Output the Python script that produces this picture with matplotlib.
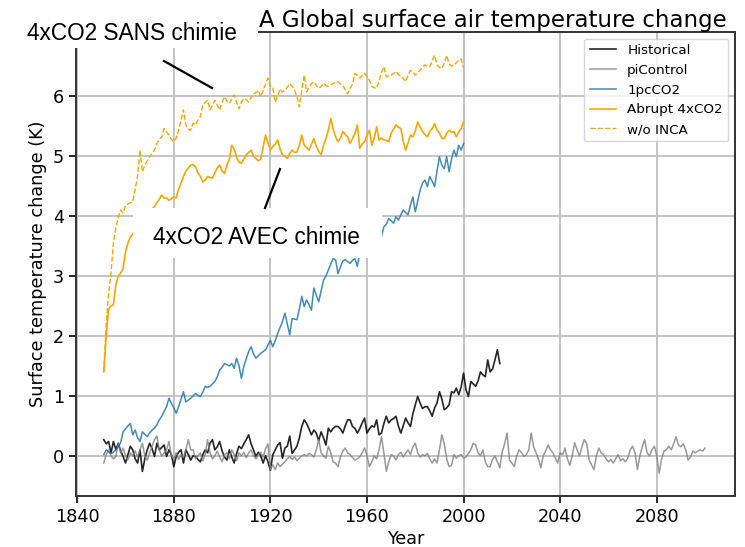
import numpy as np
import matplotlib
matplotlib.use("Agg")
import matplotlib.pyplot as plt
from matplotlib.patches import Rectangle
from matplotlib.lines import Line2D

# annual global mean surface air temperature anomalies (K)
start_year = 1851

historical = [
    0.27, 0.20, 0.24, 0.05, 0.24, 0.10, 0.21, 0.08, -0.01, -0.12,
    0.02, 0.16, 0.10, -0.05, -0.12, 0.10, -0.26, -0.05, 0.10, 0.21,
    0.12, -0.01, 0.21, 0.10, 0.14, 0.18, -0.01, 0.10, 0.02, -0.18,
    -0.01, 0.06, 0.10, -0.12, 0.10, 0.02, -0.07, 0.00, -0.01, -0.06,
    -0.10, 0.02, 0.10, 0.05, 0.21, 0.27, 0.10, 0.15, 0.24, 0.08,
    -0.02, -0.07, 0.10, -0.02, -0.12, 0.04, 0.16, 0.12, 0.20, 0.27,
    0.35, 0.20, 0.10, -0.01, 0.06, 0.00, -0.12, 0.00, -0.10, -0.24,
    0.02, 0.10, 0.18, 0.22, -0.04, 0.13, 0.16, 0.33, 0.04, 0.10,
    0.16, 0.30, 0.49, 0.60, 0.54, 0.45, 0.35, 0.43, 0.38, 0.25,
    0.40, 0.30, 0.18, 0.46, 0.40, 0.46, 0.49, 0.49, 0.45, 0.38,
    0.50, 0.60, 0.60, 0.49, 0.46, 0.38, 0.45, 0.55, 0.63, 0.38,
    0.45, 0.50, 0.48, 0.60, 0.35, 0.38, 0.54, 0.66, 0.55, 0.60,
    0.62, 0.66, 0.50, 0.38, 0.50, 0.63, 0.55, 0.49, 0.70, 0.85,
    0.99, 0.88, 0.79, 0.82, 0.82, 0.75, 0.66, 0.80, 0.88, 1.07,
    0.95, 0.77, 0.80, 0.85, 1.07, 1.05, 1.13, 1.02, 1.15, 1.38,
    1.10, 0.99, 1.24, 1.20, 1.16, 1.25, 1.40, 1.35, 1.32, 1.60,
    1.40, 1.45, 1.60, 1.77, 1.54,
]

picontrol = [
    -0.12, 0.02, 0.10, 0.00, -0.05, -0.01, 0.21, 0.05, 0.13, 0.00,
    -0.07, 0.05, 0.00, 0.08, -0.02, 0.10, 0.21, 0.00, -0.07, 0.05,
    0.16, 0.27, 0.33, 0.10, -0.01, 0.05, 0.10, 0.24, 0.00, -0.05,
    0.05, -0.06, 0.02, -0.02, 0.10, 0.27, 0.10, 0.10, -0.05, 0.00,
    0.05, -0.08, 0.02, 0.27, 0.05, -0.05, 0.00, 0.08, -0.02, -0.10,
    0.02, 0.05, -0.05, 0.10, 0.02, -0.08, 0.05, 0.00, 0.06, -0.03,
    0.05, 0.10, 0.00, -0.05, 0.02, 0.06, -0.02, 0.12, 0.20, -0.23,
    -0.15, -0.23, -0.12, -0.18, -0.14, -0.10, -0.05, -0.01, -0.06, -0.02,
    -0.08, -0.04, 0.00, 0.02, 0.00, 0.04, 0.02, -0.02, 0.10, 0.27,
    0.05, 0.00, -0.04, 0.16, 0.05, -0.10, -0.12, -0.18, -0.02, 0.08,
    0.13, 0.05, 0.02, -0.03, -0.07, -0.05, -0.02, 0.05, 0.13, 0.00,
    -0.18, -0.10, 0.00, -0.05, 0.10, 0.32, 0.05, -0.26, -0.10, 0.02,
    0.00, -0.07, 0.02, 0.06, -0.02, 0.04, 0.10, 0.02, 0.15, 0.21,
    0.05, -0.02, 0.02, 0.00, 0.04, -0.05, -0.12, -0.05, -0.12, 0.10,
    0.35, 0.20, -0.05, -0.18, -0.16, 0.02, -0.04, 0.00, 0.02, -0.04,
    -0.02, 0.04, 0.10, 0.21, 0.18, 0.05, 0.00, 0.10, -0.10, -0.18,
    -0.18, -0.06, 0.00, -0.10, -0.20, 0.07, 0.20, 0.38, -0.07, -0.12,
    -0.18, 0.00, 0.10, 0.05, -0.01, 0.02, 0.10, 0.38, 0.15, 0.05,
    -0.05, -0.20, 0.00, 0.08, 0.18, 0.10, 0.05, -0.04, -0.12, 0.05,
    0.02, 0.13, -0.05, -0.16, 0.00, 0.22, 0.10, 0.00, 0.15, 0.27,
    0.20, -0.07, -0.15, -0.23, 0.00, 0.13, 0.05, 0.02, -0.05, -0.10,
    -0.06, -0.12, -0.05, 0.02, -0.08, -0.05, -0.10, -0.04, 0.10, 0.16,
    0.05, -0.23, 0.00, 0.15, 0.27, 0.05, 0.00, 0.10, 0.16, 0.00,
    -0.29, -0.05, 0.08, 0.10, 0.16, 0.10, 0.20, 0.32, 0.18, 0.15,
    0.20, 0.10, -0.07, -0.02, 0.08, 0.05, 0.08, 0.10, 0.08, 0.13,
]

onepct = [
    0.02, 0.10, 0.07, 0.04, 0.06, 0.10, 0.16, 0.22, 0.40, 0.45,
    0.50, 0.54, 0.35, 0.43, 0.30, 0.24, 0.40, 0.36, 0.32, 0.38,
    0.43, 0.46, 0.52, 0.60, 0.66, 0.74, 0.82, 0.96, 0.88, 0.80,
    0.71, 0.82, 0.95, 1.07, 0.90, 0.93, 0.96, 1.00, 1.04, 1.01,
    0.99, 1.06, 1.16, 1.14, 1.16, 1.20, 1.24, 1.32, 1.43, 1.48,
    1.54, 1.52, 1.50, 1.54, 1.46, 1.63, 1.50, 1.29, 1.49, 1.62,
    1.74, 1.82, 1.70, 1.63, 1.67, 1.71, 1.74, 1.77, 1.85, 1.93,
    1.82, 1.92, 2.04, 2.14, 2.24, 2.38, 2.20, 2.02, 2.29, 2.28,
    2.27, 2.45, 2.66, 2.49, 2.60, 2.52, 2.43, 2.80, 2.68, 2.57,
    2.75, 2.93, 3.00, 3.10, 3.20, 3.29, 3.27, 3.04, 3.15, 3.25,
    3.27, 3.24, 3.21, 3.26, 3.29, 3.16, 3.38, 3.40, 3.45, 3.42,
    3.50, 3.55, 3.48, 3.58, 3.62, 3.66, 3.82, 3.86, 3.96, 3.92,
    3.88, 3.99, 3.93, 4.02, 4.10, 4.06, 4.02, 4.18, 4.32, 4.07,
    4.25, 4.43, 4.55, 4.60, 4.49, 4.66, 4.58, 4.49, 4.75, 4.99,
    4.85, 4.79, 4.99, 4.74, 4.95, 5.10, 4.99, 5.18, 5.10, 5.21,
]

abrupt4x = [
    1.40, 2.00, 2.45, 2.50, 2.52, 2.85, 3.00, 3.05, 3.12, 3.40,
    3.55, 3.65, 3.70, 3.78, 3.85, 3.92, 3.98, 4.02, 4.06, 4.10,
    4.12, 4.16, 4.22, 4.28, 4.35, 4.30, 4.30, 4.26, 4.29, 4.32,
    4.30, 4.45, 4.55, 4.66, 4.75, 4.80, 4.85, 4.86, 4.82, 4.72,
    4.66, 4.57, 4.60, 4.66, 4.64, 4.63, 4.72, 4.80, 4.85, 4.75,
    4.71, 4.85, 4.95, 5.18, 5.12, 4.98, 4.90, 4.88, 4.95, 5.02,
    5.06, 5.10, 5.00, 4.96, 4.92, 4.95, 5.15, 5.35, 5.22, 5.10,
    5.16, 5.20, 5.27, 5.12, 5.02, 5.00, 4.96, 5.04, 5.10, 5.06,
    5.07, 5.18, 5.35, 5.18, 5.14, 5.10, 5.20, 5.29, 5.16, 5.08,
    5.02, 5.18, 5.29, 5.43, 5.63, 5.45, 5.32, 5.24, 5.30, 5.41,
    5.36, 5.32, 5.21, 5.29, 5.38, 5.52, 5.13, 5.20, 5.24, 5.35,
    5.43, 5.18, 5.30, 5.49, 5.27, 5.30, 5.27, 5.26, 5.24, 5.38,
    5.45, 5.52, 5.48, 5.46, 5.25, 5.10, 5.22, 5.35, 5.32, 5.42,
    5.57, 5.48, 5.41, 5.36, 5.32, 5.41, 5.46, 5.54, 5.44, 5.38,
    5.30, 5.29, 5.38, 5.43, 5.40, 5.41, 5.32, 5.40, 5.46, 5.57,
]

abrupt4x_noinca = [
    1.40, 2.20, 2.70, 3.05, 3.55, 3.80, 3.98, 4.10, 4.05, 4.18,
    4.20, 4.22, 4.24, 4.45, 4.66, 5.10, 4.74, 4.85, 4.92, 4.99,
    5.04, 5.10, 5.21, 5.28, 5.32, 5.46, 5.40, 5.35, 5.28, 5.24,
    5.30, 5.43, 5.60, 5.77, 5.52, 5.45, 5.43, 5.55, 5.52, 5.60,
    5.66, 5.85, 5.90, 5.93, 5.77, 5.85, 5.93, 5.85, 5.77, 5.90,
    5.99, 5.92, 5.88, 5.95, 6.02, 5.90, 5.79, 5.90, 5.96, 5.94,
    5.90, 5.98, 6.04, 6.06, 6.10, 5.99, 6.10, 6.20, 6.30, 6.16,
    6.13, 5.90, 6.00, 6.12, 6.07, 6.10, 6.15, 6.21, 6.16, 6.10,
    6.00, 5.82, 6.10, 6.35, 6.07, 6.15, 6.21, 6.24, 6.18, 6.13,
    6.16, 6.21, 6.18, 6.16, 6.19, 6.21, 6.23, 6.24, 6.20, 6.18,
    6.10, 6.04, 6.13, 6.20, 6.38, 6.34, 6.30, 6.34, 6.38, 6.32,
    6.27, 6.16, 6.14, 6.13, 6.25, 6.40, 6.49, 6.32, 6.34, 6.35,
    6.38, 6.41, 6.36, 6.33, 6.30, 6.24, 6.35, 6.43, 6.40, 6.35,
    6.40, 6.43, 6.48, 6.52, 6.50, 6.49, 6.60, 6.68, 6.52, 6.48,
    6.46, 6.55, 6.68, 6.54, 6.50, 6.52, 6.56, 6.60, 6.62, 6.46,
]


def years(values):
    return np.arange(start_year, start_year + len(values))


W, H = 745, 547


def fx(px):
    return px / W


def fy(py):
    return 1 - py / H


fig = plt.figure(figsize=(W / 100, H / 100), dpi=100)
ax = fig.add_axes([fx(76), fy(496), fx(735) - fx(76), fy(32) - fy(496)])

ax.plot(years(historical), historical, color="black", lw=1.2, alpha=0.85, label="Historical")
ax.plot(years(picontrol), picontrol, color="grey", lw=1.1, alpha=0.8, label="piControl")
ax.plot(years(onepct), onepct, color="tab:blue", lw=1.1, alpha=0.85, label="1pcCO2")
ax.plot(years(abrupt4x), abrupt4x, color="orange", lw=1.2, label="Abrupt 4xCO2")
ax.plot(years(abrupt4x_noinca), abrupt4x_noinca, color="orange", lw=1.0, ls="--",
        label="w/o INCA")

ax.set_xlim(1839.5, 2112.4)
ax.set_ylim(-0.67, 7.07)
ax.set_xticks([1840, 1880, 1920, 1960, 2000, 2040, 2080])
ax.set_yticks([0, 1, 2, 3, 4, 5, 6])
ax.tick_params(labelsize=12.7, width=1.2, length=5)
ax.grid(True, color="#c4c4c4", lw=1.4)
for s in ax.spines.values():
    s.set_linewidth(1.4)
    s.set_color("#333333")

ax.set_xlabel("Year", fontsize=12.7, labelpad=3)
ax.set_ylabel("Surface temperature change (K)", fontsize=12.7)
# the left part of the title is hidden under the pasted label box, only this part shows
fig.text(fx(727), fy(27), "A Global surface air temperature change", ha="right",
         va="baseline", fontsize=16.5)
ax.legend(loc="upper right", fontsize=9.7)

# overlaid annotation boxes
fig.add_artist(Rectangle((fx(0), fy(48)), fx(258), fy(0) - fy(48), transform=fig.transFigure,
                         facecolor="white", edgecolor="none", zorder=10))
fig.text(fx(132), fy(40), "4xCO2 SANS chimie", ha="center", va="baseline",
         fontsize=16.3, family="Liberation Sans", zorder=11)
fig.add_artist(Line2D([fx(164), fx(212)], [fy(61), fy(88)], transform=fig.transFigure,
                      color="black", lw=1.6, zorder=11))

fig.add_artist(Rectangle((fx(133), fy(258)), fx(382) - fx(133), fy(208) - fy(258),
                         transform=fig.transFigure, facecolor="white", edgecolor="none",
                         zorder=10))
fig.text(fx(256), fy(244), "4xCO2 AVEC chimie", ha="center", va="baseline",
         fontsize=16.3, family="Liberation Sans", zorder=11)
fig.add_artist(Line2D([fx(280), fx(265)], [fy(169), fy(208)], transform=fig.transFigure,
                      color="black", lw=1.6, zorder=11))

fig.savefig("out.png", dpi=100)
